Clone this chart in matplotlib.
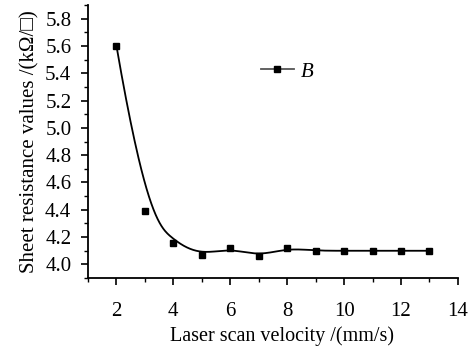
import numpy as np
import matplotlib
matplotlib.use("Agg")
import matplotlib.pyplot as plt
from matplotlib.ticker import MultipleLocator

plt.rcParams['font.family'] = ['Liberation Serif', 'DejaVu Sans']

velocity = [2, 3, 4, 5, 6, 7, 8, 9, 10, 11, 12, 13]
resistance = [5.60, 4.39, 4.16, 4.07, 4.12, 4.06, 4.12, 4.10, 4.10, 4.10, 4.10, 4.10]
x_ticks = [2, 4, 6, 8, 10, 12, 14]
y_ticks = [4.0, 4.2, 4.4, 4.6, 4.8, 5.0, 5.2, 5.4, 5.6, 5.8]


def bspline(px, py, k=3, num=600):
    px = np.asarray(px, float)
    py = np.asarray(py, float)
    n = len(px)
    inner = np.arange(1, n - k)
    t = np.concatenate([np.zeros(k + 1), inner, np.full(k + 1, n - k)]).astype(float)
    u = np.linspace(0, n - k, num)
    u[-1] -= 1e-9

    def basis(i, kk, uu):
        if kk == 0:
            return np.where((t[i] <= uu) & (uu < t[i + 1]), 1.0, 0.0)
        a = np.zeros_like(uu)
        b = np.zeros_like(uu)
        if t[i + kk] != t[i]:
            a = (uu - t[i]) / (t[i + kk] - t[i]) * basis(i, kk - 1, uu)
        if t[i + kk + 1] != t[i + 1]:
            b = (t[i + kk + 1] - uu) / (t[i + kk + 1] - t[i + 1]) * basis(i + 1, kk - 1, uu)
        return a + b

    B = np.array([basis(i, k, u) for i in range(n)])
    return B.T @ px, B.T @ py


fig = plt.figure(figsize=(4.77, 3.52), dpi=100)
ax = fig.add_axes([0.1845, 0.210, 0.7755, 0.776])

cx, cy = bspline(velocity, resistance)
ax.plot(cx, cy, color='black', lw=1.3, zorder=2)
ax.plot(velocity, resistance, 's', color='black', ms=3.8, zorder=3)

# legend handle
ax.plot([], [], color='#555555', lw=1.3, marker='s', ms=3.8, mfc='black', mec='black', label='B')
leg = ax.legend(loc='upper left', bbox_to_anchor=(0.416, 0.86), frameon=False,
                handlelength=1.6, handletextpad=0.35,
                prop={'family': 'Liberation Serif', 'style': 'italic', 'size': 15})

ax.set_xlim(1, 14)
ax.set_ylim(3.9, 5.9)
ax.set_xticks(x_ticks)
ax.set_yticks(y_ticks)
ax.set_yticklabels([f"{v:.1f}" for v in y_ticks])
ax.xaxis.set_minor_locator(MultipleLocator(1))
ax.yaxis.set_minor_locator(MultipleLocator(0.1))

for s in ['top', 'right']:
    ax.spines[s].set_visible(False)
for s in ['left', 'bottom']:
    ax.spines[s].set_linewidth(1.3)

ax.tick_params(axis='both', which='major', direction='out', length=5, width=1.2, labelsize=15)
ax.tick_params(axis='both', which='minor', direction='out', length=3, width=1.0)
ax.tick_params(axis='x', which='major', pad=12)
ax.tick_params(axis='y', which='major', pad=7)

ax.set_xlabel('Laser scan velocity /(mm/s)', fontsize=14.5, labelpad=5)
ax.xaxis.set_label_coords(0.524, -0.175)
ax.xaxis.label.set_va('top')
ax.set_ylabel('Sheet resistance values /(kΩ/□)', fontsize=15, labelpad=4)

fig.savefig('out.png', dpi=100)
